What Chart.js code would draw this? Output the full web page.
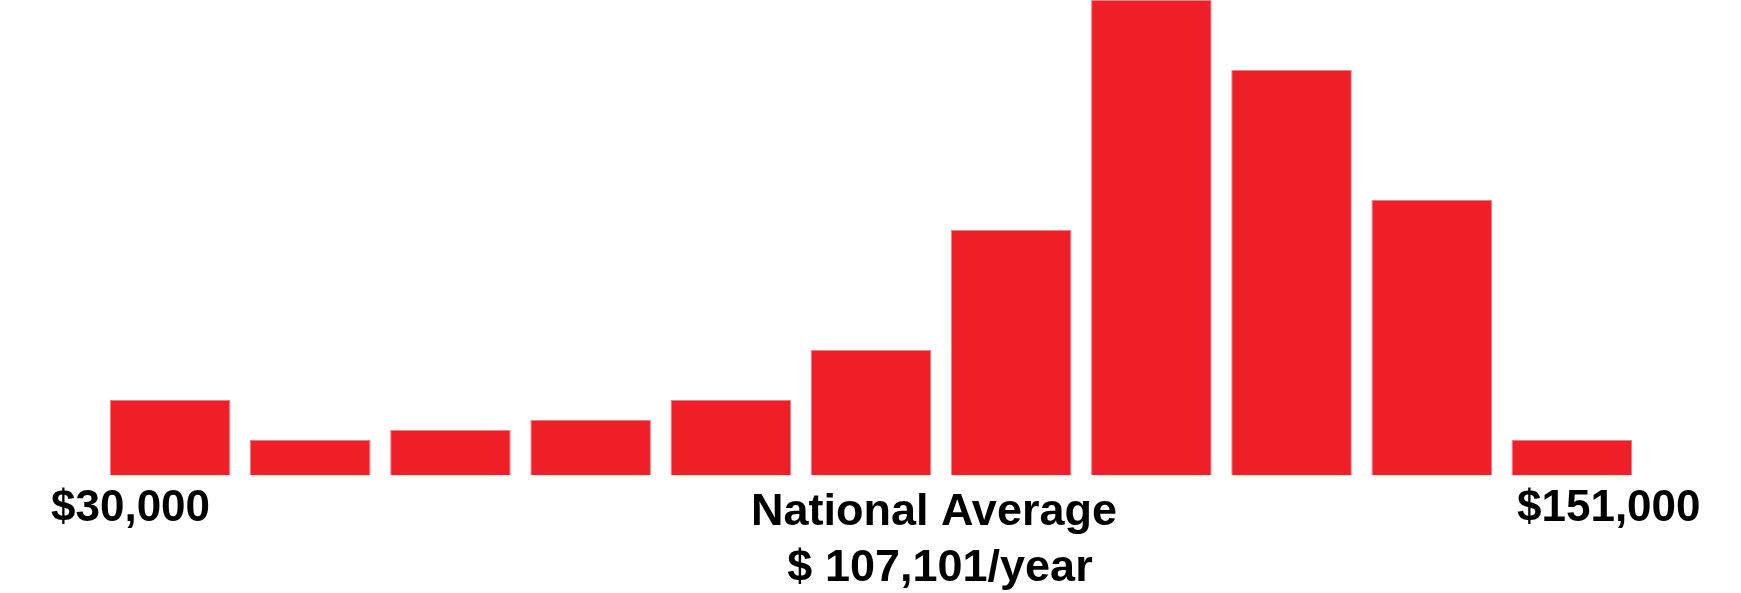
<!DOCTYPE html>
<html>
<head>
<meta charset="utf-8">
<script src="https://cdn.jsdelivr.net/npm/chart.js@4.4.1/dist/chart.umd.min.js"></script>
<style>
    html, body { margin: 0; padding: 0; background: #ffffff; }
    #wrap { position: relative; width: 1741px; height: 593px; }
</style>
</head>
<body>
<div id="wrap"><canvas id="salaryChart"></canvas></div>
<script>
// salary distribution buckets (left = lowest pay, right = highest pay)
const buckets = ["b1", "b2", "b3", "b4", "b5", "b6", "b7", "b8", "b9", "b10", "b11"];
const counts = [15, 7, 9, 11, 15, 25, 49, 95, 81, 55, 7];
const rangeLabels = ["$30,000", "$151,000"];
const averageLines = ["National Average", "$ 107,101/year"];

const barRed = "#ee1f27";
const barEdge = "#f27a80";

// writes the range ends and the national average under the bars
const textUnderBars = {
    id: "textUnderBars",
    afterDraw(chart) {
        const ctx = chart.ctx;
        ctx.save();
        ctx.fillStyle = "#000000";
        ctx.textBaseline = "alphabetic";

        ctx.font = "bold 44px 'Liberation Sans', Arial, sans-serif";
        ctx.textAlign = "left";
        ctx.fillText(rangeLabels[0], 51, 521);
        ctx.fillText(rangeLabels[1], 1517, 521);

        ctx.font = "bold 45px 'Liberation Sans', Arial, sans-serif";
        ctx.textAlign = "center";
        ctx.fillText(averageLines[0], 934, 525);
        ctx.fillText(averageLines[1], 940, 581);
        ctx.restore();
    }
};

new Chart(document.getElementById("salaryChart"), {
    type: "bar",
    data: {
        labels: buckets,
        datasets: [{
            data: counts,
            backgroundColor: barRed,
            borderColor: barEdge,
            borderWidth: 1,
            categoryPercentage: 1.0,
            barPercentage: 0.86
        }]
    },
    options: {
        responsive: true,
        maintainAspectRatio: false,
        animation: false,
        layout: {
            padding: { left: 100, right: 99, top: 0, bottom: 118 }
        },
        scales: {
            x: { display: false },
            y: { display: false, min: 0, max: 95 }
        },
        plugins: {
            legend: { display: false },
            tooltip: { enabled: false }
        }
    },
    plugins: [textUnderBars]
});
</script>
</body>
</html>
